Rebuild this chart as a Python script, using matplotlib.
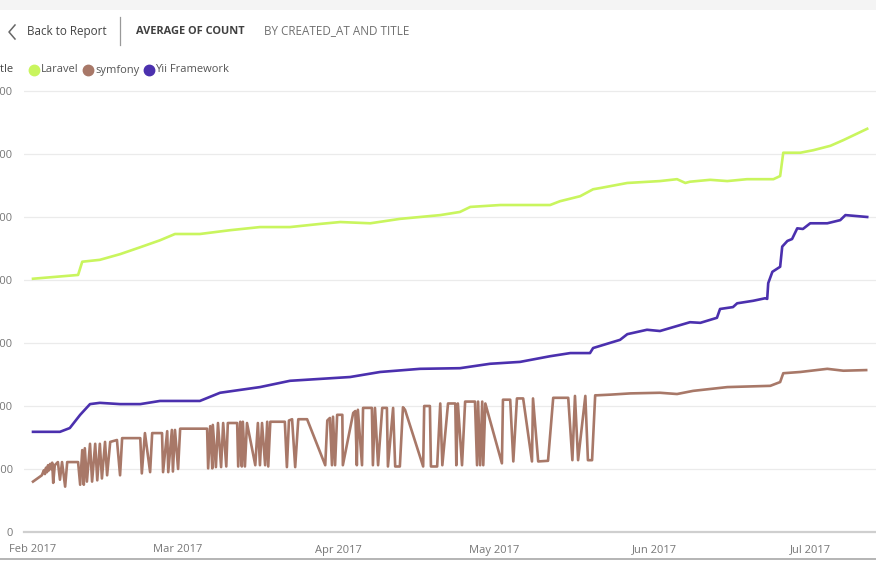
import numpy as np
import pandas as pd
import matplotlib
matplotlib.use("Agg")
import matplotlib.pyplot as plt
import matplotlib.dates as mdates
from matplotlib.lines import Line2D
from matplotlib.patches import Rectangle

plt.rcParams['font.family'] = ['Open Sans', 'DejaVu Sans']

# data: days since 2017-02-01 and average count
start = pd.Timestamp('2017-02-01')

laravel_days = [0, 8.7, 9.5, 12.9, 16.8, 20.7, 24.5, 27.4, 32.2, 38.0, 43.8, 49.6,
                55.4, 59.3, 65.1, 70.8, 78.6, 82.4, 84.4, 90.2, 95.9, 99.8, 101.7,
                105.6, 108.1, 109.5, 114.7, 121.0, 124.3, 125.9, 126.8, 130.7, 134.0,
                137.8, 142.9, 144.2, 144.8, 148.1, 150.6, 153.9, 156.4, 161.0]
laravel_vals = [402, 408, 429, 432, 441, 452, 463, 473, 473, 479, 484, 484,
                489, 492, 490, 497, 503, 508, 516, 519, 519, 519, 525,
                533, 544, 546, 554, 557, 560, 554, 556, 559, 557,
                560, 560, 565, 602, 602, 606, 613, 622, 640]

yii_days = [0, 5.2, 7.1, 9.1, 11.0, 12.9, 16.8, 20.7, 24.5, 32.2, 36.1, 43.8,
            49.6, 55.4, 61.2, 67.0, 74.7, 82.4, 88.2, 94.0, 99.8, 103.7, 107.5,
            108.1, 113.3, 114.7, 118.5, 121.0, 126.8, 128.8, 132.0, 132.6, 135.1,
            135.9, 139.0, 141.3, 141.7, 141.9, 142.7, 144.2, 144.6, 145.6, 146.5,
            147.5, 148.6, 150.0, 153.3, 155.8, 156.8, 161.0]
yii_vals = [159, 159, 165, 186, 203, 205, 203, 203, 208, 208, 221, 230,
            240, 243, 246, 254, 259, 260, 267, 270, 279, 284, 284,
            292, 305, 314, 321, 319, 333, 332, 340, 354, 357,
            363, 367, 371, 370, 395, 413, 421, 453, 462, 465,
            482, 481, 490, 490, 495, 503, 500]

symfony_days = [0, 1.0, 1.7, 2.1, 2.3, 2.5, 2.7, 2.9, 3.1, 3.3, 3.5, 3.7, 3.9,
                4.2, 4.8, 5.2, 5.6, 6.2, 6.6, 8.7, 9.1, 9.5, 9.8, 10.0, 10.4,
                11.0, 11.4, 12.0, 12.4, 12.9, 13.3, 13.9, 14.3, 14.9, 16.2, 16.8,
                17.2, 20.7, 21.0, 21.6, 22.6, 23.0, 24.9, 25.1, 25.9, 26.1, 26.8,
                27.0, 27.4, 28.0, 28.4, 33.6, 33.8, 34.2, 34.6, 34.7, 35.3, 35.7,
                36.3, 36.7, 37.3, 37.6, 39.4, 39.6, 40.0, 40.3, 40.5, 40.9, 41.3,
                42.9, 43.4, 43.8, 44.2, 44.8, 45.2, 45.4, 45.8, 48.6, 49.0, 49.4,
                50.0, 50.6, 51.2, 52.9, 56.4, 56.8, 57.3, 57.7, 57.9, 58.3, 58.7,
                59.7, 59.8, 61.8, 62.2, 62.5, 62.7, 63.5, 63.7, 65.4, 65.6, 66.0,
                66.6, 67.4, 68.3, 68.5, 69.5, 69.9, 70.8, 71.4, 71.8, 75.3, 75.5,
                76.6, 76.8, 78.0, 78.6, 79.0, 80.1, 81.5, 81.7, 82.0, 82.8, 83.4,
                85.3, 85.7, 85.9, 86.3, 86.7, 86.9, 87.3, 90.5, 90.7, 92.1, 92.7,
                93.4, 94.6, 96.3, 96.5, 97.5, 99.4, 100.4, 103.3, 104.1, 104.6,
                105.2, 106.6, 107.1, 107.9, 108.5, 108.9, 111.4, 115.3, 121.0,
                124.3, 127.4, 134.0, 142.3, 144.2, 144.8, 148.1, 153.3, 156.4, 160.8]
symfony_vals = [80, 86, 90, 98, 92, 102, 95, 106, 98, 108, 100, 110, 78,
                106, 111, 83, 111, 72, 111, 111, 75, 130, 75, 133, 80,
                140, 80, 140, 82, 140, 85, 143, 90, 143, 146, 90,
                149, 149, 93, 157, 95, 157, 157, 95, 160, 95, 162,
                96, 162, 100, 164, 164, 101, 168, 101, 170, 103, 173,
                103, 173, 104, 173, 173, 104, 175, 104, 175, 104, 173,
                106, 173, 106, 173, 106, 175, 104, 175, 175, 103, 177,
                179, 103, 179, 179, 106, 177, 181, 106, 183, 106, 186,
                186, 106, 189, 192, 106, 194, 106, 197, 197, 106, 197,
                106, 197, 197, 104, 197, 104, 104, 198, 194, 104, 200,
                200, 104, 104, 204, 106, 204, 204, 106, 204, 106, 207,
                207, 106, 207, 106, 207, 106, 204, 109, 210, 210, 112,
                212, 212, 112, 212, 112, 113, 213, 213, 114, 216,
                114, 216, 114, 114, 217, 217, 218, 220, 221,
                219, 224, 230, 232, 238, 252, 254, 259, 256, 257]

series = [
    ('Laravel', laravel_days, laravel_vals, '#C9F55E'),
    ('symfony', symfony_days, symfony_vals, '#A87868'),
    ('Yii Framework', yii_days, yii_vals, '#4B30AE'),
]

y_ticks = [0, 100, 200, 300, 400, 500, 600, 700]
x_ticks = ['2017-02-01', '2017-03-01', '2017-04-01', '2017-05-01', '2017-06-01', '2017-07-01']

W, H = 876, 571
fig = plt.figure(figsize=(W / 100, H / 100), dpi=100)
fig.patch.set_facecolor('white')

def fx(px):
    return px / W

def fy(py):
    return 1 - py / H

ax = fig.add_axes([fx(24), fy(532), 1 - fx(24), (532 - 85) / H])

for name, days, vals, col in series:
    dates = start + pd.to_timedelta(days, unit='D')
    ax.plot(dates, vals, color=col, lw=1.9, solid_joinstyle='round', zorder=3)

ax.set_ylim(0, 709.5)
ax.set_xlim(start - pd.Timedelta(days=1.74), start + pd.Timedelta(days=162.7))
ax.set_yticks(y_ticks)
ax.set_yticklabels([str(t) for t in y_ticks])
ax.set_xticks(pd.to_datetime(x_ticks))
ax.xaxis.set_major_formatter(mdates.DateFormatter('%b %Y'))
ax.tick_params(axis='both', length=0, labelsize=8, labelcolor='#777777')
ax.tick_params(axis='y', pad=8)
ax.tick_params(axis='x', pad=9)

ax.grid(axis='y', color='#EBEBEB', lw=0.9)
ax.set_axisbelow(True)
for s in ['top', 'right', 'left']:
    ax.spines[s].set_visible(False)
ax.spines['bottom'].set_color('#CFCFCF')
ax.spines['bottom'].set_linewidth(1.6)
ax.set_facecolor('none')

# header strip
fig.add_artist(Rectangle((0, fy(10)), 1, 10 / H, transform=fig.transFigure,
                         facecolor='#F4F4F4', edgecolor='none'))
fig.add_artist(Line2D([fx(15), fx(9), fx(15)], [fy(25), fy(32), fy(39)],
                      transform=fig.transFigure, color='#666666', lw=1.1))
fig.text(fx(27), fy(32), 'Back to Report', fontsize=8.4, color='#444444', va='center', ha='left')
fig.add_artist(Line2D([fx(120), fx(120)], [fy(17), fy(45)], transform=fig.transFigure,
                      color='#999999', lw=0.9))
fig.text(fx(136), fy(31), 'AVERAGE OF COUNT', fontsize=7.9, fontweight='bold',
         color='#404040', va='center', ha='left')
fig.text(fx(264), fy(31), 'BY CREATED_AT AND TITLE', fontsize=8.4,
         color='#707070', va='center', ha='left')

# legend
fig.text(fx(14), fy(70), 'Title', fontsize=8, color='#444444', va='center', ha='right')
leg_pos = [(34, 41), (88, 95), (149, 155)]
for (name, days, vals, col), (cx, tx) in zip(series, leg_pos):
    fig.add_artist(Line2D([fx(cx)], [fy(70)], transform=fig.transFigure, marker='o',
                          markersize=7.5, color=col, lw=0))
    fig.text(fx(tx), fy(70), name, fontsize=8, color='#555555', va='center', ha='left')

# bottom border
fig.add_artist(Line2D([0, 1], [fy(559), fy(559)], transform=fig.transFigure,
                      color='#A8A8A8', lw=1.2))

fig.savefig('out.png', dpi=100)
